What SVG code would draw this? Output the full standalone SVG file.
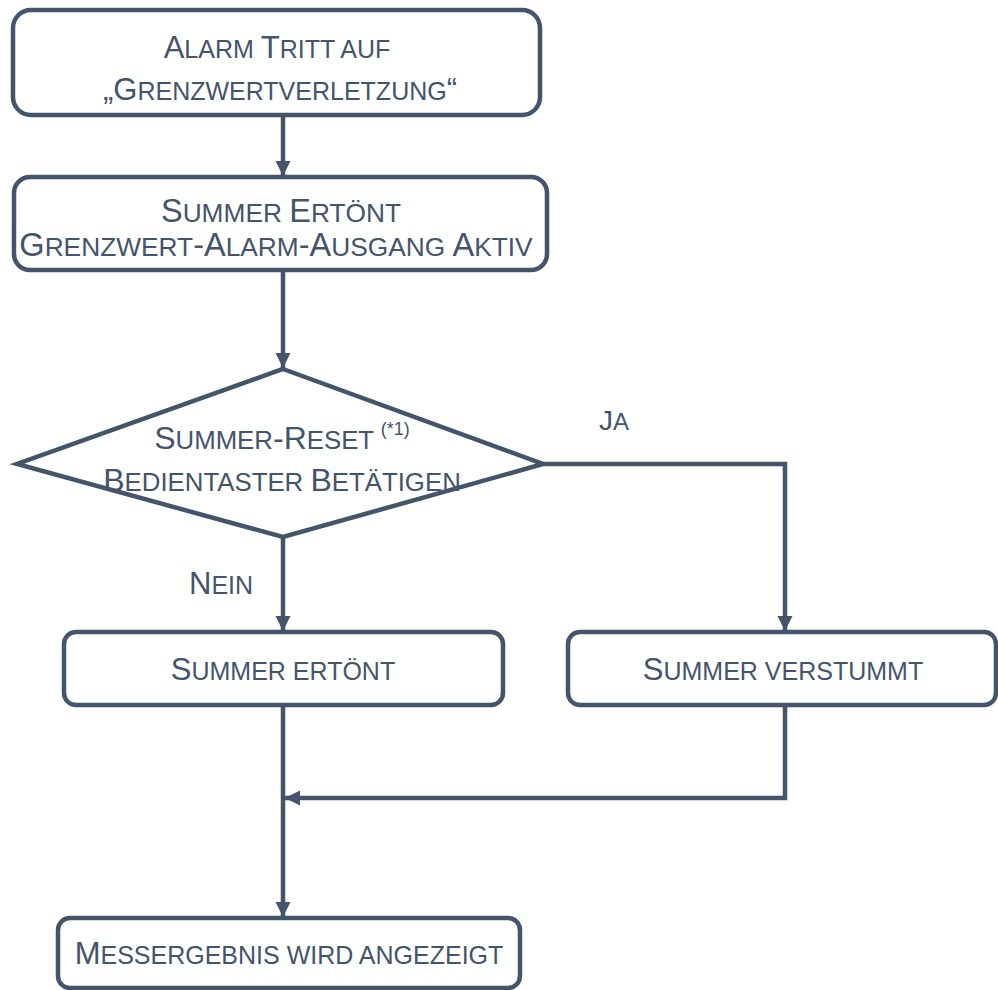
<svg xmlns="http://www.w3.org/2000/svg" width="998" height="990" viewBox="0 0 998 990">
<defs>
<style>
.box{fill:#fff;stroke:#44546a;stroke-width:4.5}
.ln{fill:none;stroke:#44546a;stroke-width:4.5}
text{font-family:"Liberation Sans",Arial,sans-serif;fill:#44546a}
.b{font-size:31px}
.s{font-size:25px}
.b2{font-size:32.5px}
.s2{font-size:26.3px}
.b3{font-size:32px}
.s3{font-size:25.8px}
.sup{font-size:18px}
</style>
<marker id="ah" viewBox="0 0 10 10" refX="10" refY="5" markerWidth="3.4" markerHeight="3.4" orient="auto" markerUnits="strokeWidth">
<path d="M0,0 L10,5 L0,10 Z" fill="#44546a"/>
</marker>
</defs>
<rect width="998" height="990" fill="#fff"/>
<g id="connectors">
<line class="ln" x1="283" y1="115" x2="283" y2="176" marker-end="url(#ah)"/>
<line class="ln" x1="283" y1="270" x2="283" y2="368" marker-end="url(#ah)"/>
<polyline class="ln" points="543,464 785,464 785,631" marker-end="url(#ah)"/>
<line class="ln" x1="283" y1="537" x2="283" y2="631" marker-end="url(#ah)"/>
<line class="ln" x1="283" y1="705" x2="283" y2="917" marker-end="url(#ah)"/>
<polyline class="ln" points="785,705 785,798 285,798" marker-end="url(#ah)"/>
</g>
<g id="n1">
<rect class="box" x="13" y="10" width="527" height="105" rx="18"/>
<text x="277" y="58" text-anchor="middle"><tspan class="b">A</tspan><tspan class="s">LARM </tspan><tspan class="b">T</tspan><tspan class="s">RITT AUF</tspan></text>
<text x="280" y="100" text-anchor="middle"><tspan class="b">„G</tspan><tspan class="s">RENZWERTVERLETZUNG</tspan><tspan class="b">“</tspan></text>
</g>
<g id="n2">
<rect class="box" x="14" y="177" width="533" height="93" rx="16"/>
<text x="281" y="222" text-anchor="middle"><tspan class="b2">S</tspan><tspan class="s2">UMMER </tspan><tspan class="b2">E</tspan><tspan class="s2">RTÖNT</tspan></text>
<text x="276" y="256" text-anchor="middle"><tspan class="b2">G</tspan><tspan class="s2">RENZWERT</tspan><tspan class="b2">-A</tspan><tspan class="s2">LARM</tspan><tspan class="b2">-A</tspan><tspan class="s2">USGANG </tspan><tspan class="b2">A</tspan><tspan class="s2">KTIV</tspan></text>
</g>
<g id="n3">
<polygon class="box" points="283,369 543,464 283,537 17,464"/>
<text x="282" y="449" text-anchor="middle"><tspan class="b3">S</tspan><tspan class="s3">UMMER</tspan><tspan class="b3">-R</tspan><tspan class="s3">ESET </tspan><tspan class="sup" dy="-14">(*1)</tspan></text>
<text x="282" y="491" text-anchor="middle"><tspan class="b3">B</tspan><tspan class="s3">EDIENTASTER </tspan><tspan class="b3">B</tspan><tspan class="s3">ETÄTIGEN</tspan></text>
</g>
<g id="lbl-ja">
<text x="599" y="430"><tspan style="font-size:28px">J</tspan><tspan style="font-size:24px">A</tspan></text>
</g>
<g id="lbl-nein">
<text x="189" y="594"><tspan class="b">N</tspan><tspan class="s">EIN</tspan></text>
</g>
<g id="n4">
<rect class="box" x="64" y="632" width="439" height="73" rx="12"/>
<text x="283" y="680" text-anchor="middle"><tspan class="b">S</tspan><tspan class="s">UMMER ERTÖNT</tspan></text>
</g>
<g id="n5">
<rect class="box" x="568" y="632" width="428" height="73" rx="12"/>
<text x="783" y="680" text-anchor="middle"><tspan class="b">S</tspan><tspan class="s">UMMER VERSTUMMT</tspan></text>
</g>
<g id="n6">
<rect class="box" x="58" y="918" width="462" height="70" rx="12"/>
<text x="289" y="964" text-anchor="middle"><tspan class="b">M</tspan><tspan class="s">ESSERGEBNIS WIRD ANGEZEIGT</tspan></text>
</g>
</svg>
